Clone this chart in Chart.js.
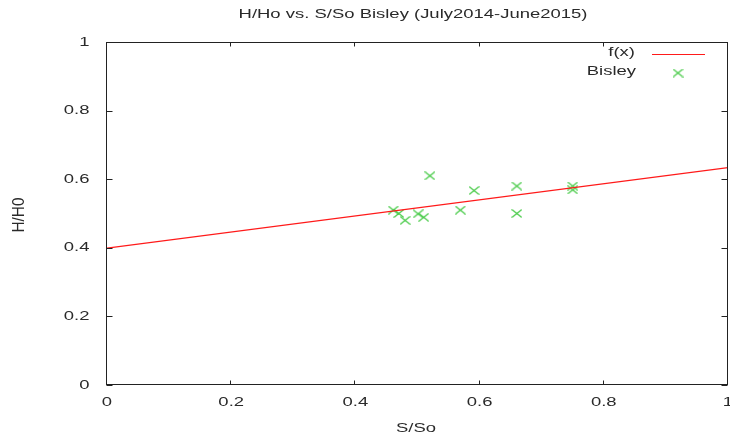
<!DOCTYPE html>
<html><head><meta charset="utf-8">
<script src="https://cdn.jsdelivr.net/npm/chart.js@4/dist/chart.umd.min.js"></script>
<style>html,body{margin:0;padding:0;background:#fff;}canvas{display:block;}</style>
</head><body>
<canvas id="c" width="730" height="438"></canvas>
<script>
const bisleyX = [0.461, 0.470, 0.480, 0.501, 0.510, 0.520, 0.569, 0.591, 0.660, 0.660, 0.750, 0.750];
const bisleyY = [0.510, 0.500, 0.480, 0.499, 0.489, 0.610, 0.510, 0.567, 0.580, 0.500, 0.580, 0.569];
const fitX = [0, 1];
const fitY = [0.399, 0.634];
const xTickValues = [0, 0.2, 0.4, 0.6, 0.8, 1];
const yTickValues = [0, 0.2, 0.4, 0.6, 0.8, 1];
const xTickLabels = ['0', '0.2', '0.4', '0.6', '0.8', '1'];
const yTickLabels = ['0', '0.2', '0.4', '0.6', '0.8', '1'];
const chartTitle = 'H/Ho vs. S/So Bisley (July2014-June2015)';
const xAxisTitle = 'S/So';
const yAxisTitle = 'H/H0';
const seriesNames = ['f(x)', 'Bisley'];

const FONT = '13px "Liberation Sans", Arial, sans-serif';
const TEXT = '#2a2a2a';
const GREEN = '#3fc83f';
const RED = '#ff1a1a';
const SX = 1.42;

// stretched "x" marker
const marker = document.createElement('canvas');
marker.width = 11; marker.height = 9;
(function(){
  const m = marker.getContext('2d');
  m.strokeStyle = GREEN; m.lineWidth = 1.1;
  m.beginPath();
  m.moveTo(0.5, 0.5); m.lineTo(10.5, 8.5);
  m.moveTo(10.5, 0.5); m.lineTo(0.5, 8.5);
  m.stroke();
})();

function txt(ctx, s, x, y, align, sx, sy, rot) {
  ctx.save();
  ctx.translate(x, y);
  if (rot) ctx.rotate(rot);
  ctx.scale(sx, sy);
  ctx.font = FONT;
  ctx.fillStyle = TEXT;
  ctx.textAlign = align;
  ctx.textBaseline = 'middle';
  ctx.fillText(s, 0, 0);
  ctx.restore();
}

const decor = {
  id: 'decor',
  beforeDraw(chart) {
    const ctx = chart.ctx;
    ctx.save(); ctx.fillStyle = '#fff'; ctx.fillRect(0, 0, chart.width, chart.height); ctx.restore();
  },
  afterDraw(chart) {
    const ctx = chart.ctx;
    const a = chart.chartArea;
    const xs = chart.scales.x, ys = chart.scales.y;
    ctx.save();
    ctx.strokeStyle = '#222';
    ctx.lineWidth = 1;
    const L = Math.round(a.left) - 0.5, R = Math.round(a.right) - 0.5;
    const T = Math.round(a.top) + 0.5, B = Math.round(a.bottom) - 0.5;
    ctx.strokeRect(L, T, R - L, B - T);
    ctx.beginPath();
    xs.ticks.forEach((t, i) => {
      const px = Math.round(xs.getPixelForValue(t.value)) - 0.5;
      ctx.moveTo(px, B); ctx.lineTo(px, B - 4);
      ctx.moveTo(px, T); ctx.lineTo(px, T + 4);
    });
    ys.ticks.forEach((t, i) => {
      const py = Math.round(ys.getPixelForValue(t.value)) + 0.5;
      ctx.moveTo(L, py); ctx.lineTo(L + 6, py);
      ctx.moveTo(R, py); ctx.lineTo(R - 6, py);
    });
    ctx.stroke();
    ctx.restore();

    xs.ticks.forEach((t, i) => {
      txt(ctx, xTickLabels[i], xs.getPixelForValue(t.value), 402, 'center', SX, 1);
    });
    ys.ticks.forEach((t, i) => {
      txt(ctx, yTickLabels[i], 89.5, ys.getPixelForValue(t.value), 'right', SX, 1);
    });
    txt(ctx, chartTitle, 413, 14, 'center', SX, 1);
    txt(ctx, xAxisTitle, 416, 428, 'center', SX, 1);
    txt(ctx, yAxisTitle, 20, 215, 'center', 1.18, 1.2, -Math.PI / 2);

    // legend
    txt(ctx, seriesNames[0], 635, 52.5, 'right', SX, 1);
    txt(ctx, seriesNames[1], 636, 71, 'right', SX, 1);
    ctx.save();
    ctx.strokeStyle = RED; ctx.lineWidth = 1.2;
    ctx.beginPath(); ctx.moveTo(652, 54.5); ctx.lineTo(705, 54.5); ctx.stroke();
    ctx.drawImage(marker, 678 - 5.5, 73 - 4.5);
    ctx.restore();
  }
};

new Chart(document.getElementById('c'), {
  type: 'scatter',
  data: {
    datasets: [
      {
        label: seriesNames[0],
        data: fitX.map((x, i) => ({ x: x, y: fitY[i] })),
        showLine: true,
        borderColor: RED,
        borderWidth: 1.2,
        pointRadius: 0,
        fill: false
      },
      {
        label: seriesNames[1],
        data: bisleyX.map((x, i) => ({ x: x, y: bisleyY[i] })),
        pointStyle: marker,
        pointRadius: 5,
        borderColor: GREEN,
        backgroundColor: GREEN
      }
    ]
  },
  plugins: [decor],
  options: {
    responsive: false,
    animation: false,
    devicePixelRatio: 1,
    layout: { autoPadding: false, padding: { left: 0, top: 42, right: 2, bottom: 0 } },
    plugins: { legend: { display: false }, tooltip: { enabled: false }, title: { display: false } },
    scales: {
      x: {
        type: 'linear', min: 0, max: 1,
        grid: { display: false }, border: { display: false },
        ticks: { display: false },
        afterBuildTicks: s => { s.ticks = xTickValues.map(v => ({ value: v })); },
        afterFit: s => { s.height = 53; }
      },
      y: {
        type: 'linear', min: 0, max: 1,
        grid: { display: false }, border: { display: false },
        ticks: { display: false },
        afterBuildTicks: s => { s.ticks = yTickValues.map(v => ({ value: v })); },
        afterFit: s => { s.width = 107; }
      }
    }
  }
});
</script>
</body></html>
